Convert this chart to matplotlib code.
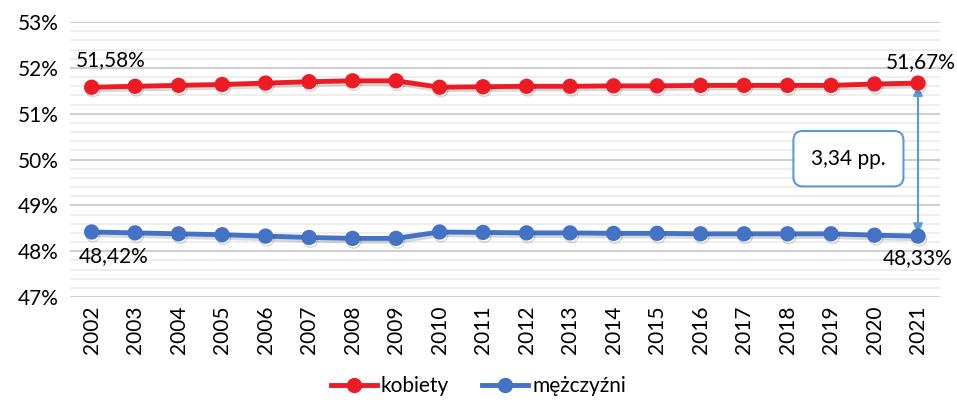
import matplotlib
matplotlib.use('Agg')
import matplotlib.pyplot as plt
import matplotlib.patheffects as PathEffects
from matplotlib.lines import Line2D
from matplotlib.ticker import MultipleLocator, FuncFormatter

plt.rcParams['font.family'] = ['Lato', 'DejaVu Sans']

years = [str(y) for y in range(2002, 2022)]
kobiety = [51.58, 51.60, 51.62, 51.64, 51.67, 51.70, 51.72, 51.72, 51.58, 51.59,
           51.60, 51.60, 51.61, 51.61, 51.62, 51.62, 51.62, 51.62, 51.65, 51.67]
mezczyzni = [48.42, 48.40, 48.38, 48.36, 48.33, 48.30, 48.28, 48.28, 48.42, 48.41,
             48.40, 48.40, 48.39, 48.39, 48.38, 48.38, 48.38, 48.38, 48.35, 48.33]
series_names = ['kobiety', 'mężczyźni']
diff_label = '3,34 pp.'

RED = '#ED1C24'
BLUE = '#4472C4'
ARROW = '#5B9BD5'

fig = plt.figure(figsize=(9.57, 4.03), dpi=100)
ax = fig.add_axes([0.073, 0.263, 0.909, 0.682])

x = list(range(len(years)))
shadow = [PathEffects.SimpleLineShadow(offset=(1, -2), shadow_color='black', alpha=0.15),
          PathEffects.Normal()]
ax.plot(x, kobiety, color=RED, lw=3.5, marker='o', ms=10, path_effects=shadow, zorder=3)
ax.plot(x, mezczyzni, color=BLUE, lw=3.5, marker='o', ms=10, path_effects=shadow, zorder=3)

ax.set_xlim(-0.5, len(years) - 0.5)
ax.set_ylim(47, 53)
ax.set_xticks(x)
ax.set_xticklabels(years, rotation=90, fontsize=15)
ax.yaxis.set_major_locator(MultipleLocator(1))
ax.yaxis.set_minor_locator(MultipleLocator(0.2))
ax.yaxis.set_major_formatter(FuncFormatter(lambda v, p: f'{v:.0f}%'))
ax.tick_params(axis='y', labelsize=15, length=0, which='both', pad=8)
ax.tick_params(axis='x', length=0, pad=6)
ax.grid(axis='y', which='major', color='#D0D0D0', lw=1.5)
ax.grid(axis='y', which='minor', color='#EBEBEB', lw=1.2)
ax.set_axisbelow(True)
for s in ax.spines.values():
    s.set_visible(False)

def pct(v):
    return f'{v:.2f}%'.replace('.', ',')

ax.annotate(pct(kobiety[0]), (x[0], kobiety[0]), xytext=(14, 12), textcoords='offset points',
            ha='center', va='bottom', fontsize=15)
ax.annotate(pct(mezczyzni[0]), (x[0], mezczyzni[0]), xytext=(16, -10), textcoords='offset points',
            ha='center', va='top', fontsize=15)
ax.annotate(pct(kobiety[-1]), (x[-1], kobiety[-1]), xytext=(2, 8), textcoords='offset points',
            ha='center', va='bottom', fontsize=15)
ax.annotate(pct(mezczyzni[-1]), (x[-1], mezczyzni[-1]), xytext=(0, -9), textcoords='offset points',
            ha='center', va='top', fontsize=15)

# double arrow between the two last points
ax.annotate('', xy=(x[-1], mezczyzni[-1] + 0.06), xytext=(x[-1], kobiety[-1] - 0.06),
            arrowprops=dict(arrowstyle='<|-|>', color=ARROW, lw=1.5, mutation_scale=14,
                            shrinkA=0, shrinkB=0), zorder=2)
ax.text(x[-1] - 1.6, (kobiety[-1] + mezczyzni[-1]) / 2 + 0.02, diff_label, ha='center', va='center',
        fontsize=15, zorder=4,
        bbox=dict(boxstyle='round,pad=0.85,rounding_size=0.45', fc='white', ec=ARROW, lw=1.5))

handles = [Line2D([], [], color=RED, lw=3.5, marker='o', ms=10),
           Line2D([], [], color=BLUE, lw=3.5, marker='o', ms=10)]
fig.legend(handles=handles, labels=series_names, loc='lower center', bbox_to_anchor=(0.5, -0.03),
           ncol=2, frameon=False, fontsize=15, handlelength=2.2, columnspacing=1.6,
           handletextpad=0.2)

fig.savefig('out.png', dpi=100)
